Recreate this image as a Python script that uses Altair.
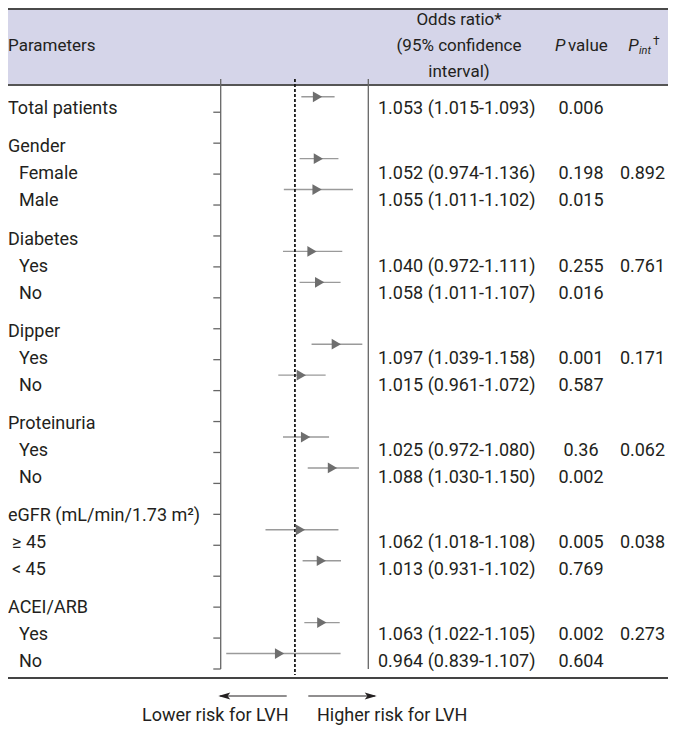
import altair as alt
import pandas as pd

# ---------------- data ----------------
group_labels = ["Gender", "Diabetes", "Dipper", "Proteinuria", "eGFR (mL/min/1.73 m²)", "ACEI/ARB"]
sub_labels = [["Female", "Male"], ["Yes", "No"], ["Yes", "No"], ["Yes", "No"], ["≥ 45", "< 45"], ["Yes", "No"]]
total_label = "Total patients"

# table rows: Total, then the two sub-rows of each group (in table order)
odds = [1.053, 1.052, 1.055, 1.040, 1.058, 1.097, 1.015, 1.025, 1.088, 1.062, 1.013, 1.063, 0.964]
ci_low = [1.015, 0.974, 1.011, 0.972, 1.011, 1.039, 0.961, 0.972, 1.030, 1.018, 0.931, 1.022, 0.839]
ci_high = [1.093, 1.136, 1.102, 1.111, 1.107, 1.158, 1.072, 1.080, 1.150, 1.108, 1.102, 1.105, 1.107]
p_value = ["0.006", "0.198", "0.015", "0.255", "0.016", "0.001", "0.587", "0.36", "0.002", "0.005", "0.769", "0.002", "0.604"]
p_int = ["0.892", "0.761", "0.171", "0.062", "0.038", "0.273"]
# slot of each table row in the forest plot as drawn (Gender and eGFR pairs are drawn swapped)
plot_slot = [0, 3, 2, 5, 6, 8, 9, 11, 12, 15, 14, 17, 18]
tick_slots = list(range(1, 20))

# ---------------- layout ----------------
W, H = 660, 717
M = 8  # page margin


def cx(px):
    return px - M


def cy(py):
    return py - M


FONT = "Roboto"
TXT = "#231f20"
BODY = 18
HEAD = 17

TOTAL_BASE = 114.3
GROUP_BASE = 152.3
PERIOD = 92.2
STEP = 27.0

# label rows
lab_rows = [{"t": total_label, "x": 0, "y": cy(TOTAL_BASE)}]
data_y = [cy(TOTAL_BASE)]
first_sub_y = []
for k, g in enumerate(group_labels):
    gy = GROUP_BASE + PERIOD * k
    lab_rows.append({"t": g, "x": 0, "y": cy(gy)})
    for j, s in enumerate(sub_labels[k]):
        sy = gy + STEP * (j + 1)
        indent = 4 if s[0] in "≥<" else 11
        lab_rows.append({"t": s, "x": indent, "y": cy(sy)})
        data_y.append(cy(sy))
        if j == 0:
            first_sub_y.append(cy(sy))
lab_df = pd.DataFrame(lab_rows)

or_df = pd.DataFrame({
    "t": [f"{o:.3f} ({l:.3f}-{h:.3f})" for o, l, h in zip(odds, ci_low, ci_high)],
    "y": data_y,
})
pv_df = pd.DataFrame({"t": p_value, "y": data_y})
pi_df = pd.DataFrame({"t": p_int, "y": first_sub_y})

forest_df = pd.DataFrame({
    "odds": odds, "lo": ci_low, "hi": ci_high,
    "slot": [s + 0.5 for s in plot_slot],
})
tick_df = pd.DataFrame({"t": tick_slots})
ref_df = pd.DataFrame({"x": [1.0]})

xs = alt.Scale(domain=[0.826, 1.172], range=[cx(220.7), cx(368.3)], nice=False, zero=False)
ys = alt.Scale(domain=[0, 19], range=[cy(81.3), cy(669)], nice=False, zero=False)

one = pd.DataFrame({"a": [0]})
base = alt.Chart(one)


def text_layer(df, align, size=BODY, x=None, style="normal"):
    ch = alt.Chart(df).mark_text(align=align, baseline="alphabetic", font=FONT, fontSize=size,
                                 color=TXT, fontStyle=style)
    enc = {"text": "t:N", "y": alt.Y("y:Q", scale=None, axis=None)}
    if x is None:
        enc["x"] = alt.X("x:Q", scale=None, axis=None)
    else:
        enc["x"] = alt.value(x)
    return ch.encode(**enc)


# header band and rules
header = base.mark_rect(color="#d5d5e9").encode(
    x=alt.value(0), x2=alt.value(W), y=alt.value(0), y2=alt.value(cy(85)))
top_line = base.mark_rule(color="#4a4a4a", strokeWidth=2).encode(
    x=alt.value(0), x2=alt.value(W), y=alt.value(1))
head_line = base.mark_rule(color="#555555", strokeWidth=2).encode(
    x=alt.value(0), x2=alt.value(W), y=alt.value(cy(85)))
bottom_line = base.mark_rule(color="#444444", strokeWidth=2).encode(
    x=alt.value(0), x2=alt.value(W), y=alt.value(cy(678)))

left_axis = base.mark_rule(color="#666666", strokeWidth=1.3).encode(
    x=alt.value(cx(220.7)), y=alt.value(cy(79)), y2=alt.value(cy(669)))
right_axis = base.mark_rule(color="#666666", strokeWidth=1.3).encode(
    x=alt.value(cx(368.3)), y=alt.value(cy(79)), y2=alt.value(cy(669)))
ticks = alt.Chart(tick_df).mark_rule(color="#666666", strokeWidth=1.3).encode(
    x=alt.value(cx(213.3)), x2=alt.value(cx(220.7)),
    y=alt.Y("t:Q", scale=ys, axis=None))
ref_line = alt.Chart(ref_df).mark_rule(color="#1a1a1a", strokeWidth=1.8, strokeDash=[3, 2]).encode(
    x=alt.X("x:Q", scale=xs, axis=None), y=alt.value(cy(79)), y2=alt.value(cy(675)))

ci = alt.Chart(forest_df).mark_rule(color="#9a9a9a", strokeWidth=1.4).encode(
    x=alt.X("lo:Q", scale=xs, axis=None), x2="hi:Q",
    y=alt.Y("slot:Q", scale=ys, axis=None))
pts = alt.Chart(forest_df).mark_point(shape="triangle-right", filled=True, size=115,
                                      color="#6e6e6e", opacity=1).encode(
    x=alt.X("odds:Q", scale=xs, axis=None),
    y=alt.Y("slot:Q", scale=ys, axis=None))

# header texts
head_left = pd.DataFrame({"t": ["Parameters"], "x": [0], "y": [cy(51)]})
head_or = pd.DataFrame({"t": ["Odds ratio*", "(95% confidence", "interval)"],
                        "y": [cy(25), cy(51), cy(77)]})
h1 = text_layer(head_left, "left", HEAD)
h2 = text_layer(head_or, "center", HEAD, x=cx(459))
h3 = text_layer(pd.DataFrame({"t": ["P"], "y": [cy(51)]}), "left", HEAD, x=cx(555), style="italic")
h4 = text_layer(pd.DataFrame({"t": ["value"], "y": [cy(51)]}), "left", HEAD, x=cx(568))
h5 = text_layer(pd.DataFrame({"t": ["P"], "y": [cy(51)]}), "left", HEAD, x=cx(628.3), style="italic")
h6 = text_layer(pd.DataFrame({"t": ["int"], "y": [cy(54)]}), "left", 11, x=cx(639), style="italic")
h7 = text_layer(pd.DataFrame({"t": ["†"], "y": [cy(45)]}), "left", 12, x=cx(653))

labels = text_layer(lab_df, "left", BODY)
or_txt = text_layer(or_df, "left", BODY, x=cx(378))
pv_txt = text_layer(pv_df, "center", BODY, x=cx(581))
pi_txt = text_layer(pi_df, "center", BODY, x=cx(642.5))

# direction arrows and captions
arrow_l = base.mark_rule(color="#231f20", strokeWidth=1.2).encode(
    x=alt.value(cx(220)), x2=alt.value(cx(286.7)), y=alt.value(cy(696)))
arrow_r = base.mark_rule(color="#231f20", strokeWidth=1.2).encode(
    x=alt.value(cx(308.3)), x2=alt.value(cx(375)), y=alt.value(cy(696)))
head_l = base.mark_point(shape="M-1,0L1,-0.6L0.55,0L1,0.6Z", filled=True, size=144,
                         color="#231f20", opacity=1).encode(
    x=alt.value(cx(224.3)), y=alt.value(cy(696)))
head_r = base.mark_point(shape="M1,0L-1,-0.6L-0.55,0L-1,0.6Z", filled=True, size=144,
                         color="#231f20", opacity=1).encode(
    x=alt.value(cx(370.7)), y=alt.value(cy(696)))
cap_l = text_layer(pd.DataFrame({"t": ["Lower risk for LVH"], "y": [cy(721)]}), "right", BODY, x=cx(288.5))
cap_r = text_layer(pd.DataFrame({"t": ["Higher risk for LVH"], "y": [cy(721)]}), "left", BODY, x=cx(317))

chart = alt.layer(
    header, top_line, head_line, bottom_line,
    left_axis, right_axis, ticks, ci, ref_line, pts,
    h1, h2, h3, h4, h5, h6, h7,
    labels, or_txt, pv_txt, pi_txt,
    arrow_l, arrow_r, head_l, head_r, cap_l, cap_r,
).resolve_scale(x="independent", y="independent").properties(
    width=W, height=H, padding=0, autosize=alt.AutoSizeParams(type="none"),
    background="white",
).configure_view(stroke=None)

chart.save("out.html", embed_options={"renderer": "svg", "actions": False})
